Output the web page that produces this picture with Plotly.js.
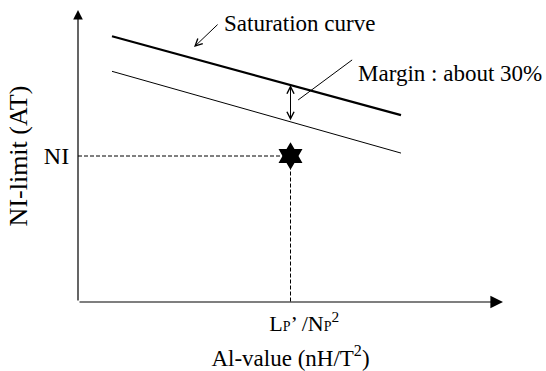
<!DOCTYPE html>
<html><head><meta charset="utf-8">
<script src="https://cdn.plot.ly/plotly-3.0.1.min.js"></script>
<style>html,body{margin:0;padding:0;background:#fff}</style>
</head><body><div id="chart" style="width:546px;height:371px"></div>
<script>
// Schematic values (arbitrary units, 0-100 on both axes)
const satX = [8, 76];
const satY = [91, 64];
const marginX = [8, 76];
const marginY = [79, 51];
const opX = [50];
const opY = [50];
const marginArrowY = [74.3, 61.7];
const satPointerX = [33.2, 27.3];
const satPointerY = [95.5, 87.3];
const marginLeaderX = [64.5, 51.8];
const marginLeaderY = [82.9, 69.2];
const xTickVals = [50];
const xTickText = ['\u00a0\u00a0\u00a0\u00a0\u00a0L<span style="font-size:14px">P</span>’ /N<span style="font-size:14px">P</span><sup>2</sup>'];
const yTickVals = [50];
const yTickText = ['NI'];
const satLabel = 'Saturation curve';
const marginLabel = 'Margin : about 30%';

const FONT = 'Liberation Serif, Times New Roman, serif';
const BLACK = '#000';

const traces = [
  { x: satX, y: satY, mode: 'lines', line: { color: BLACK, width: 2.2 }, hoverinfo: 'skip', cliponaxis: false },
  { x: marginX, y: marginY, mode: 'lines', line: { color: BLACK, width: 1 }, hoverinfo: 'skip', cliponaxis: false },
  { x: [0, opX[0], opX[0]], y: [opY[0], opY[0], 0], mode: 'lines',
    line: { color: BLACK, width: 1, dash: '4px,2px' }, hoverinfo: 'skip', cliponaxis: false },
  { x: opX, y: opY, mode: 'markers', marker: { symbol: 'hexagram', size: 21, color: BLACK }, hoverinfo: 'skip', cliponaxis: false },
  { x: marginLeaderX, y: marginLeaderY, mode: 'lines', line: { color: BLACK, width: 1 }, hoverinfo: 'skip', cliponaxis: false }
];

const arrowBase = { xref: 'x', yref: 'y', axref: 'x', ayref: 'y', text: '', showarrow: true, arrowcolor: BLACK };

const annotations = [
  Object.assign({}, arrowBase, { x: 100, y: 0, ax: 0, ay: 0, arrowhead: 2, arrowsize: 2.1, arrowwidth: 1.2 }),
  Object.assign({}, arrowBase, { x: 0, y: 100, ax: 0, ay: 0, arrowhead: 2, arrowsize: 1.6, arrowwidth: 1.2 }),
  Object.assign({}, arrowBase, { x: opX[0], y: marginArrowY[0], ax: opX[0], ay: marginArrowY[1],
    arrowhead: 5, startarrowhead: 5, arrowside: 'end+start', arrowsize: 1.4, startarrowsize: 1.4, arrowwidth: 1 }),
  Object.assign({}, arrowBase, { x: satPointerX[1], y: satPointerY[1], ax: satPointerX[0], ay: satPointerY[0],
    arrowhead: 5, arrowsize: 1.4, arrowwidth: 1 }),
  { xref: 'x', yref: 'y', x: 33.9, y: 95.5, xanchor: 'left', yanchor: 'middle', showarrow: false,
    text: satLabel, font: { family: FONT, size: 23, color: BLACK } },
  { xref: 'x', yref: 'y', x: 65.4, y: 78.4, xanchor: 'left', yanchor: 'middle', showarrow: false,
    text: marginLabel, font: { family: FONT, size: 23, color: BLACK } }
];

const layout = {
  width: 546, height: 371,
  margin: { l: 78, r: 43, t: 10, b: 69, pad: 0 },
  paper_bgcolor: '#fff', plot_bgcolor: '#fff',
  showlegend: false,
  font: { family: FONT, color: BLACK },
  xaxis: {
    range: [0, 100], showgrid: false, zeroline: false, showline: false,
    tickvals: xTickVals, ticktext: xTickText, ticks: 'outside', ticklen: 2, tickcolor: 'rgba(0,0,0,0)',
    tickfont: { family: FONT, size: 22, color: BLACK },
    title: { text: 'Al-value (nH/T<sup>2</sup>)', font: { family: FONT, size: 23, color: BLACK }, standoff: 16 },
    fixedrange: true
  },
  yaxis: {
    range: [0, 100], showgrid: false, zeroline: false, showline: false,
    tickvals: yTickVals, ticktext: yTickText, ticks: 'outside', ticklen: 3, tickcolor: 'rgba(0,0,0,0)',
    tickfont: { family: FONT, size: 24, color: BLACK },
    title: { text: 'NI-limit (AT)', font: { family: FONT, size: 26, color: BLACK }, standoff: 8 },
    fixedrange: true
  },
  annotations: annotations
};

Plotly.newPlot('chart', traces, layout, { staticPlot: true, displayModeBar: false });
</script>
</body></html>
